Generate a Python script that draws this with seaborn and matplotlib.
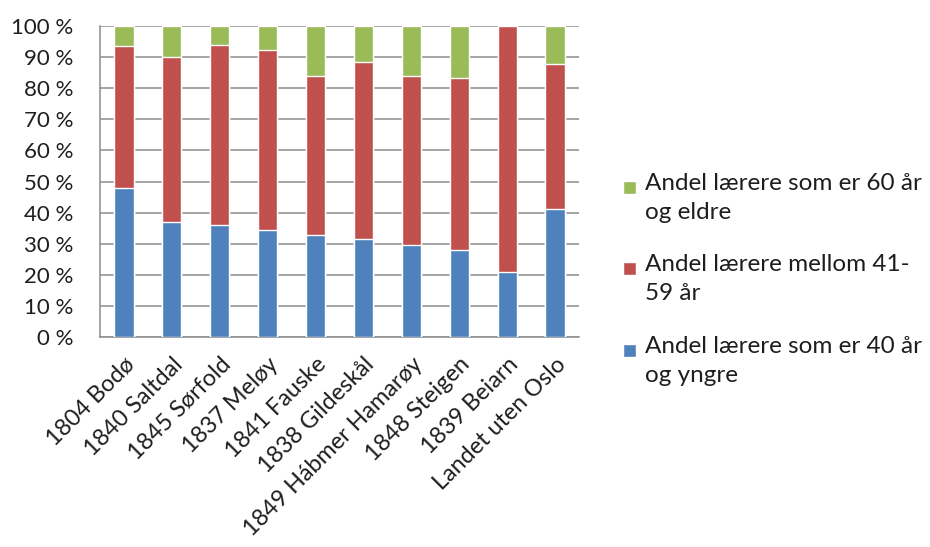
import numpy as np
import matplotlib.pyplot as plt
import seaborn as sns
import pandas as pd
from matplotlib.patches import Rectangle
from matplotlib.ticker import FuncFormatter

kommuner = ["1804 Bodø", "1840 Saltdal", "1845 Sørfold", "1837 Meløy", "1841 Fauske",
            "1838 Gildeskål", "1849 Hábmer Hamarøy", "1848 Steigen", "1839 Beiarn",
            "Landet uten Oslo"]
under40 = [48.0, 37.0, 36.0, 34.5, 32.7, 31.5, 29.5, 27.9, 20.8, 41.0]
mellom = [45.5, 53.0, 58.0, 57.8, 51.3, 57.0, 54.5, 55.3, 79.2, 46.8]
over60 = [6.5, 10.0, 6.0, 7.7, 16.0, 11.5, 16.0, 16.8, 0.0, 12.2]

labels = ["Andel lærere som er 40 år\nog yngre",
          "Andel lærere mellom 41-\n59 år",
          "Andel lærere som er 60 år\nog eldre"]
farger = ["#4F81BD", "#C0504D", "#9BBB59"]

df = pd.DataFrame({"kommune": kommuner, "u40": under40, "mid": mellom, "o60": over60})
df["topp_mid"] = df["u40"] + df["mid"]
df["topp_o60"] = df["topp_mid"] + df["o60"]

sns.set_style("white")
plt.rcParams["font.family"] = ["Lato", "DejaVu Sans"]

W, H = 930, 547
fig, ax = plt.subplots(figsize=(W / 100, H / 100), dpi=100)
fig.subplots_adjust(left=100 / W, right=579 / W, top=1 - 26 / H, bottom=1 - 337 / H)

# stablede søyler: tegn totalsummer bakerst
sns.barplot(data=df, x="kommune", y="topp_o60", color=farger[2], width=0.4,
            saturation=1, ax=ax, zorder=3)
sns.barplot(data=df, x="kommune", y="topp_mid", color=farger[1], width=0.4,
            saturation=1, ax=ax, zorder=3)
sns.barplot(data=df, x="kommune", y="u40", color=farger[0], width=0.4,
            saturation=1, ax=ax, zorder=3)

ax.set_ylim(0, 100)
ax.set_xlim(-0.5, len(kommuner) - 0.5)
ax.set_yticks(np.arange(0, 101, 10))
ax.yaxis.set_major_formatter(FuncFormatter(lambda v, p: f"{int(v)} %"))
ax.grid(axis="y", color="#8C8C8C", linewidth=1.1, zorder=0)
ax.set_axisbelow(True)
ax.set_xlabel("")
ax.set_ylabel("")

for s in ["top", "right"]:
    ax.spines[s].set_visible(False)
for s in ["left", "bottom"]:
    ax.spines[s].set_color("#8C8C8C")
    ax.spines[s].set_linewidth(1.1)

ax.tick_params(axis="y", length=7, width=1.1, color="#8C8C8C", labelsize=16,
               labelcolor="#1E1E1E", pad=12)
ax.set_xticks(np.arange(len(kommuner)))
ax.set_xticklabels(kommuner, rotation=45, ha="right", rotation_mode="anchor",
                   fontsize=16.8, color="#1E1E1E")
ax.tick_params(axis="x", which="major", length=0, pad=12)
ax.set_xticks(np.arange(-0.5, len(kommuner)), minor=True)
ax.tick_params(axis="x", which="minor", length=7, color="#8C8C8C", width=1.1)

# forklaring, firkant ved første linje
for i, yl in zip([2, 1, 0], [187, 268, 350]):
    fig.patches.append(Rectangle((623 / W, 1 - (yl + 7) / H), 13 / W, 13 / H,
                                 facecolor=farger[i], transform=fig.transFigure))
    fig.text(645 / W, 1 - (yl - 14) / H, labels[i], fontsize=17.5, va="top",
             ha="left", linespacing=1.45, color="#1E1E1E")

fig.savefig("out.png", dpi=100)
